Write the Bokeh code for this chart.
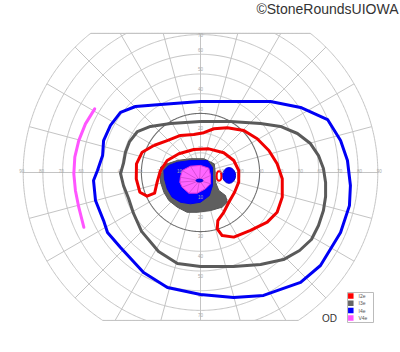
import numpy as np
from bokeh.plotting import figure
from bokeh.embed import file_html
from bokeh.resources import INLINE
from bokeh.core.properties import value

# ---------------- data (visual-field degrees: x = horizontal, y = vertical) ----------------
RINGS = [10, 20, 30, 40, 50, 60, 70, 80, 90]
H_TICKS = [10, 20, 30, 40, 50, 60, 70, 80, 90]
V_TICKS = [10, 20, 30, 40, 50, 60, 70]
MERIDIANS = list(range(0, 360, 15))
TOP_LIMIT = 70.6
BOTTOM_LIMIT = -75.1

# I4e isopter (blue)
I4E_X = [-20.3, 0.0, 20.3, 35.5, 50.8, 64.5, 71.1, 74.6, 76.1, 75.6, 71.1, 60.9, 50.8, 32.0, 16.8, 0.0,
         -16.8, -28.9, -40.6, -47.2, -49.2, -53.3, -54.3, -52.3, -49.7, -49.2, -45.7, -40.6, -33.0]
I4E_Y = [34.5, 36.0, 36.0, 36.0, 33.0, 26.9, 16.2, 6.1, -6.6, -16.8, -30.5, -47.2, -55.8, -62.4, -63.5, -61.9,
         -58.4, -50.8, -38.1, -30.5, -24.4, -14.2, -4.1, 1.0, 8.6, 16.2, 23.9, 30.5, 33.5]

# I3e isopter (gray)
I3E_X = [0.0, 15.2, 30.5, 40.6, 49.2, 55.8, 59.9, 62.4, 63.5, 63.5, 62.4, 59.9, 56.3, 50.3, 42.1, 30.5, 16.8, 0.0,
         -11.7, -21.3, -29.9, -34.0, -36.5, -39.1, -40.6, -39.1, -38.1, -36.0, -32.0, -25.4, -15.2]
I3E_Y = [25.9, 25.9, 24.9, 23.4, 19.8, 14.7, 8.6, 2.0, -5.1, -12.2, -19.3, -26.9, -34.0, -39.6, -44.2, -46.7, -47.7, -47.7,
         -46.2, -40.1, -29.9, -20.8, -13.2, -6.6, -0.5, 4.6, 10.2, 15.7, 20.8, 23.4, 24.9]

# I2e isopter (red)
I2E_X = [-23.7, -16.9, -10.2, -3.4, 1.7, 6.8, 13.6, 22.0, 28.8, 34.7, 38.9, 41.5, 41.5, 38.9, 33.9, 25.4, 16.9, 11.0,
         8.5, 8.8, 11.8, 14.4, 17.3, 19.4, 19.4, 16.9, 11.8, 4.2, -3.4, -11.0, -16.9, -20.3, -22.0, -23.3, -27.1,
         -30.8, -32.6, -32.5, -29.6]
I2E_Y = [13.7, 16.2, 18.8, 19.3, 20.2, 22.2, 22.7, 21.3, 17.1, 11.2, 4.4, -3.2, -12.5, -20.2, -25.2, -29.4, -32.8, -32.0,
         -28.6, -24.4, -20.2, -15.1, -10.0, -4.9, 1.0, 6.1, 10.0, 12.0, 11.7, 9.5, 6.1, 1.0, -4.9, -10.5, -12.0,
         -10.0, -3.2, 4.4, 10.3]

# V4e isopter (magenta arc, temporal)
V4E_X = [-53.7, -58.4, -61.8, -63.8, -64.3, -63.5, -61.8, -59.2]
V4E_Y = [32.3, 24.7, 16.2, 7.8, -0.7, -9.1, -17.6, -27.8]

# central scotomas
I3E_SCOT_X = [-20.3, -16.9, -11.8, -5.1, 1.7, 7.0, 7.4, 7.6, 9.3, 12.7, 13.6, 11.0, 5.1, -1.7, -6.8, -11.8, -16.1, -18.6, -20.3, -20.3]
I3E_SCOT_Y = [2.7, 4.4, 6.1, 7.0, 7.0, 4.4, 1.0, -4.9, -9.1, -11.7, -15.1, -17.6, -19.3, -20.2, -20.2, -17.6, -14.2, -10.0, -4.9, 0.2]
I4E_SCOT_X = [-18.6, -16.1, -11.8, -5.1, 3.5, 6.1, 6.1, 6.1, 4.5, 0.0, -5.1, -10.2, -14.4, -16.9, -18.3]
I4E_SCOT_Y = [1.0, 3.6, 5.2, 6.1, 6.1, 2.5, -1.5, -6.6, -11.7, -15.1, -15.9, -15.1, -12.5, -8.3, -3.2]
V4E_SCOT_X = [-10.2, -9.3, -5.1, 0.0, 4.2, 5.1, 5.1, 2.5, -1.7, -5.9, -9.3, -10.5]
V4E_SCOT_Y = [-2.4, 1.0, 3.2, 3.6, 2.2, -1.5, -5.7, -8.3, -10.5, -10.5, -7.5, -4.9]

# small spots: centre x, centre y, width, height (degrees)
BLIND_SPOT_I4E = (14.5, -1.5, 6.6, 8.0)
SPOT_I2E = (9.4, -1.8, 2.4, 4.8)
CENTRE_SPOT_I4E = (-0.5, -4.1, 3.5, 1.5)

LEGEND_LABELS = ["I2e", "I3e", "I4e", "V4e"]
LEGEND_COLORS = ["#ff0000", "#666666", "#0000ff", "#ff55ff"]

# ---------------- layout ----------------
W, H = 400, 352
CX, CY, S = 200.0, 172.0, 1.97   # centre pixel and pixels per degree


def dx(px):
    return (px - CX) / S


def dy(py):
    return (CY - py) / S


def closed(a):
    return list(a) + [a[0]]


p = figure(width=W, height=H, x_range=(dx(0), dx(W)), y_range=(dy(H), dy(0)),
           x_axis_type=None, y_axis_type=None, toolbar_location=None,
           output_backend="svg", min_border=0)
p.outline_line_color = None
p.grid.visible = False
p.background_fill_color = "white"
p.border_fill_color = "white"

# grid rings
t = np.radians(np.arange(0, 360.5, 0.5))
ring_xs, ring_ys = [], []
for r in RINGS:
    if r == 30:
        continue
    ring_xs.append(list(r * np.cos(t)))
    ring_ys.append(list(np.clip(r * np.sin(t), BOTTOM_LIMIT, TOP_LIMIT)))
p.multi_line(ring_xs, ring_ys, line_color="#c4c4c4", line_width=1)

# meridians
sp_xs, sp_ys = [], []
for a in MERIDIANS:
    th = np.radians(a)
    sn = np.sin(th)
    rend = 90.0
    if sn > 1e-6:
        rend = min(90.0, TOP_LIMIT / sn)
    elif sn < -1e-6:
        rend = min(90.0, -BOTTOM_LIMIT / -sn)
    sp_xs.append([0, rend * np.cos(th)])
    sp_ys.append([0, rend * np.sin(th)])
p.multi_line(sp_xs, sp_ys, line_color="#c4c4c4", line_width=1)

# boundary lines
xt = np.sqrt(90 ** 2 - TOP_LIMIT ** 2)
xb = np.sqrt(90 ** 2 - BOTTOM_LIMIT ** 2)
p.multi_line([[-xt, xt], [-xb, xb]], [[TOP_LIMIT, TOP_LIMIT], [BOTTOM_LIMIT, BOTTOM_LIMIT]],
             line_color="#c4c4c4", line_width=1)

# 30 degree ring darker
p.line(list(30 * np.cos(t)), list(30 * np.sin(t)), line_color="#6e6e6e", line_width=1.1)

# scotomas
p.patch(I3E_SCOT_X, I3E_SCOT_Y, fill_color="#5f5f5f", line_color="#555555", line_width=1)
p.patch(I4E_SCOT_X, I4E_SCOT_Y, fill_color="#0000ff", line_color="#0000ee", line_width=1)
p.patch(V4E_SCOT_X, V4E_SCOT_Y, fill_color="#ff66ff", line_color="#dd33dd", line_width=1)
p.multi_line([[CENTRE_SPOT_I4E[0], x] for x in V4E_SCOT_X],
             [[CENTRE_SPOT_I4E[1], y] for y in V4E_SCOT_Y],
             line_color="#c040c0", line_width=0.6)
p.ellipse(x=[CENTRE_SPOT_I4E[0]], y=[CENTRE_SPOT_I4E[1]], width=[CENTRE_SPOT_I4E[2]],
          height=[CENTRE_SPOT_I4E[3]], fill_color="#0000ff", line_color="#0000cc")
p.ellipse(x=[BLIND_SPOT_I4E[0]], y=[BLIND_SPOT_I4E[1]], width=[BLIND_SPOT_I4E[2]],
          height=[BLIND_SPOT_I4E[3]], fill_color="#0000ff", line_color="#0000cc", line_width=1)
p.ellipse(x=[SPOT_I2E[0]], y=[SPOT_I2E[1]], width=[SPOT_I2E[2]], height=[SPOT_I2E[3]],
          fill_color="white", line_color="#ff0000", line_width=2)

# tick labels
lab_x, lab_y, lab_t = [], [], []
for r in H_TICKS:
    for sgn in (-1, 1):
        lab_x.append(sgn * (r + 0.7))
        lab_y.append(0.6)
        lab_t.append(str(r))
for r in V_TICKS:
    for sgn in (-1, 1):
        rr = r + 2.4 if not (sgn > 0 and r == 70) else 69.6
        lab_x.append(0)
        lab_y.append(sgn * rr)
        lab_t.append(str(r))
p.text(lab_x, lab_y, text=lab_t, text_font=value("Liberation Sans"), text_font_size="4.5px",
       text_color="#a8a8a8", text_align="center", text_baseline="middle")

# isopters
p.line(closed(I4E_X), closed(I4E_Y), line_color="#0000f5", line_width=3, line_join="round")
p.line(closed(I3E_X), closed(I3E_Y), line_color="#5a5a5a", line_width=3, line_join="round")
p.line(closed(I2E_X), closed(I2E_Y), line_color="#f00000", line_width=3, line_join="round")
p.line(V4E_X, V4E_Y, line_color="#ff55ff", line_width=3, line_join="round", line_cap="round")

# title / eye label
p.text([dx(398)], [dy(8)], text=["\u00a9StoneRoundsUIOWA"], text_font=value("Liberation Sans"),
       text_font_size="14px", text_color="#333333", text_align="right", text_baseline="middle")
p.text([dx(329)], [dy(318)], text=["OD"], text_font=value("Liberation Sans"),
       text_font_size="10px", text_color="#333333", text_align="center", text_baseline="middle")

# legend
p.rect([dx(360)], [dy(307)], width=26 / S, height=30 / S, fill_color="white", line_color="#bbbbbb", line_width=1)
ly = [dy(295.5 + 7.3 * i) for i in range(len(LEGEND_LABELS))]
p.rect([dx(350.3)] * len(ly), ly, width=5.5 / S, height=5.5 / S, fill_color=LEGEND_COLORS, line_color=None)
p.text([dx(358)] * len(ly), ly, text=LEGEND_LABELS, text_font=value("Liberation Sans"), text_font_size="5px",
       text_color="#555555", text_align="left", text_baseline="middle")

open("out.html", "w").write(file_html(p, INLINE))
